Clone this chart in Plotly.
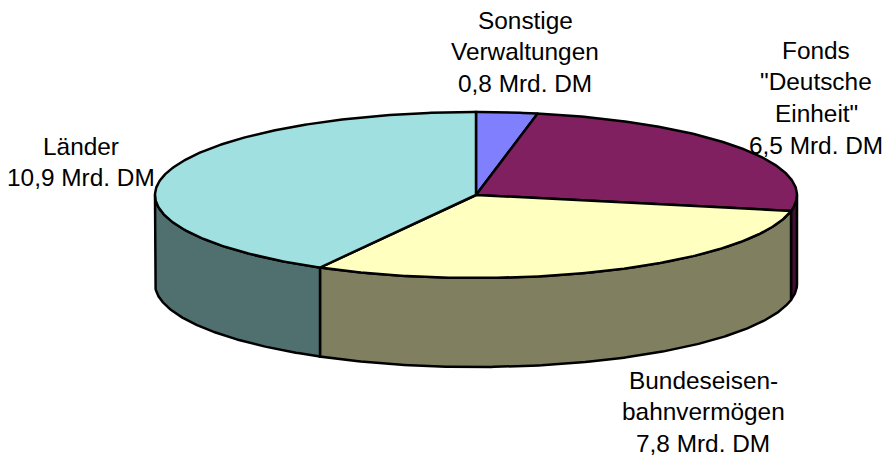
import numpy as np
import plotly.graph_objects as go

categories = ["Sonstige Verwaltungen", 'Fonds "Deutsche Einheit"', "Bundeseisenbahnvermögen", "Länder"]
values = [0.8, 6.5, 7.8, 10.9]
top_colors = ["#8080ff", "#802060", "#ffffc0", "#a0e0e0"]
side_colors = ["#404080", "#401030", "#808060", "#507070"]
label_lines = [
    ["Sonstige", "Verwaltungen", "0,8 Mrd. DM"],
    ["Fonds", '"Deutsche', 'Einheit"', "6,5 Mrd. DM"],
    ["Bundeseisen-", "bahnvermögen", "7,8 Mrd. DM"],
    ["Länder", "10,9 Mrd. DM"],
]
label_x = [525, 816, 703, 81]
label_y0 = [20, 50, 380, 146]
line_step = 31.7

CX, CY, RX, RY, DEPTH = 476, 195, 321, 83, 89

def rim(a0, a1, dy=0.0):
    t = np.radians(np.linspace(a0, a1, max(int(abs(a1 - a0) * 2), 2)))
    return CX + RX * np.sin(t), CY + dy - RY * np.cos(t)

edges = np.concatenate([[0], np.cumsum(values)]) / sum(values) * 360
fig = go.Figure()

def poly(x, y, color):
    fig.add_trace(go.Scatter(x=np.r_[x, x[0]], y=np.r_[y, y[0]], mode="lines", fill="toself",
                             fillcolor=color, line=dict(color="black", width=2.5),
                             hoverinfo="skip", showlegend=False))

# visible outer walls (front half of the disc)
for a0, a1, c in zip(edges[:-1], edges[1:], side_colors):
    lo, hi = max(a0, 90), min(a1, 270)
    if lo < hi:
        xt, yt = rim(lo, hi)
        xb, yb = rim(hi, lo, DEPTH)
        poly(np.r_[xt, xb], np.r_[yt, yb], c)

# top face
for a0, a1, c in zip(edges[:-1], edges[1:], top_colors):
    xt, yt = rim(a0, a1)
    poly(np.r_[CX, xt], np.r_[CY, yt], c)

for lines, x, y0 in zip(label_lines, label_x, label_y0):
    for i, s in enumerate(lines):
        fig.add_annotation(x=x, y=y0 + i * line_step, text=s, showarrow=False, xanchor="center",
                           yanchor="middle", font=dict(family="Liberation Sans, Arial", size=24.4, color="black"))

fig.update_layout(width=882, height=458, autosize=False, margin=dict(l=0, r=0, t=0, b=0),
                  paper_bgcolor="white", plot_bgcolor="white",
                  xaxis=dict(range=[0, 882], visible=False, fixedrange=True),
                  yaxis=dict(range=[458, 0], visible=False, fixedrange=True))
fig.write_html("out.html", config={"displayModeBar": False},
               post_script="document.body.style.margin='0';document.body.style.overflow='hidden';")
